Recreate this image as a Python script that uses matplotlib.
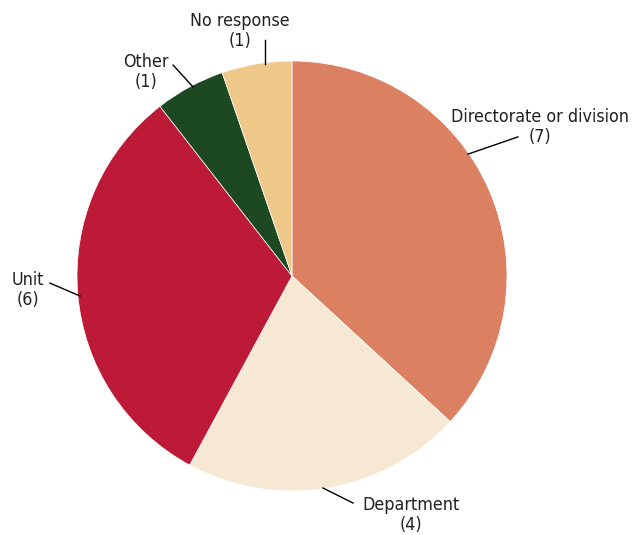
import matplotlib
matplotlib.use("Agg")
from matplotlib import pyplot as plt

labels = ["Directorate or division", "Department", "Unit", "Other", "No response"]
counts = [7, 4, 6, 1, 1]
colors = ["#DB8061", "#F7E8D4", "#BC1A36", "#1C4921", "#EDC889"]

# label text position and leader line ends, in data units (pie radius = 1)
label_xy = [(1.155, 0.695), (0.553, -1.112), (-1.228, -0.065), (-0.679, 0.949), (-0.242, 1.14)]
line_start = [(0.819, 0.567), (0.144, -0.986), (-0.986, -0.093), (-0.460, 0.879), (-0.126, 0.986)]
line_end = [(1.051, 0.647), (0.284, -1.056), (-1.126, -0.033), (-0.553, 0.981), (-0.126, 1.098)]

plt.rcParams['font.family'] = ['DejaVu Sans']

fig = plt.figure(figsize=(6.33, 5.35), dpi=100)
ax = fig.add_axes([77 / 633, 44 / 535, 430 / 633, 430 / 535])
ax.pie(counts, colors=colors, startangle=90, counterclock=False, radius=1,
       wedgeprops=dict(edgecolor="white", linewidth=0.5))
ax.set_xlim(-1, 1)
ax.set_ylim(-1, 1)
ax.set_aspect('equal')
ax.axis('off')

for lab, n, (tx, ty), p0, p1 in zip(labels, counts, label_xy, line_start, line_end):
    ax.text(tx, ty, f"{lab}\n({n})", ha='center', va='center', fontsize=12.8,
            fontstretch='condensed', color="#231f20", linespacing=1.15, clip_on=False)
    ax.plot([p0[0], p1[0]], [p0[1], p1[1]], color="black", lw=1, clip_on=False)

fig.savefig("out.png", dpi=100)
